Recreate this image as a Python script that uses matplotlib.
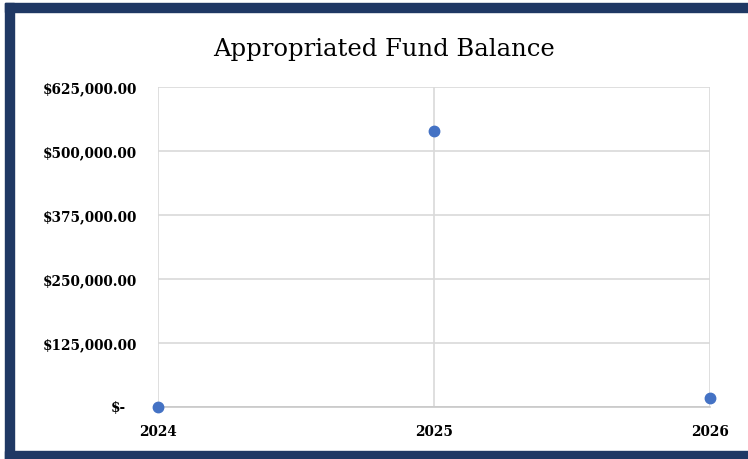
import matplotlib.pyplot as plt
from matplotlib.patches import Rectangle

years = [2024, 2025, 2026]
balance = [0, 540000, 17500]
yticks = [0, 125000, 250000, 375000, 500000, 625000]

navy = '#1F3864'
blue = '#4472C4'
grid = '#D9D9D9'

plt.rcParams['font.family'] = ['DejaVu Serif']

fig = plt.figure(figsize=(7.48, 4.60), dpi=100)
ax = fig.add_axes([0.2112, 0.1130, 0.7380, 0.6957])

ax.plot(years, balance, 'o', color=blue, markersize=7.5, clip_on=False, zorder=3)

ax.set_xlim(years[0], years[-1])
ax.set_ylim(yticks[0], yticks[-1])
ax.set_xticks(years)
ax.set_xticklabels([str(y) for y in years], fontsize=9.8, fontweight='bold')
ax.set_yticks(yticks)
ax.set_yticklabels([''] + [f'${v:,.2f}' for v in yticks[1:]], fontsize=9.8, fontweight='bold')
# accounting style zero
ax.text(-0.058, 0, '$-', transform=ax.transAxes, ha='right', va='center',
        fontsize=9.8, fontweight='bold')

ax.tick_params(axis='both', length=0)
ax.tick_params(axis='y', pad=15)
ax.tick_params(axis='x', pad=12)
ax.grid(True, color=grid, linewidth=1.2)
ax.set_axisbelow(True)
for s in ['left', 'right', 'top']:
    ax.spines[s].set_visible(False)
ax.spines['bottom'].set_color('#C8C8C8')
ax.spines['bottom'].set_linewidth(1.2)

fig.text(0.513, 0.893, 'Appropriated Fund Balance', ha='center', va='center',
         fontsize=17.5)

# frame
fig.patches.append(Rectangle((5 / 748, 0), 9 / 748, 456 / 460, transform=fig.transFigure,
                             color=navy, zorder=0))
fig.patches.append(Rectangle((5 / 748, 447 / 460), 743 / 748, 9 / 460, transform=fig.transFigure,
                             color=navy, zorder=0))
fig.patches.append(Rectangle((5 / 748, 0), 743 / 748, 8 / 460, transform=fig.transFigure,
                             color=navy, zorder=0))

fig.savefig('out.png', dpi=100)
